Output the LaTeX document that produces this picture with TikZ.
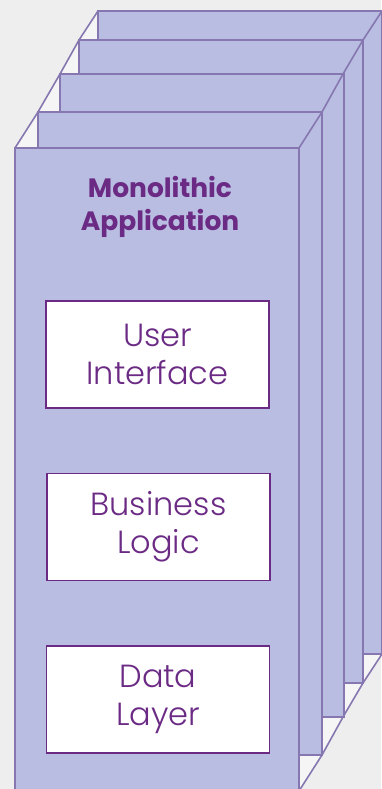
\documentclass[tikz,border=0pt]{standalone}
\usepackage{fontspec}
\setmainfont{Poppins}
\newfontfamily\lightfont{Poppins Light}
\definecolor{bg}{HTML}{EEEEEE}
\definecolor{gap}{HTML}{F5F5F5}
\definecolor{cardfill}{HTML}{B8BDE1}
\definecolor{cardline}{HTML}{8677B0}
\definecolor{plum}{HTML}{6B2A84}

\begin{document}
\begin{tikzpicture}[x=1pt, y=-1pt,
        layer/.style={fill=cardfill, draw=cardline, line width=1.6pt},
        edge/.style={draw=cardline, line width=1.6pt},
        part/.style={draw=plum, fill=white, line width=1.8pt, minimum width=223pt, minimum height=107pt,
            align=center, text=plum, font=\lightfont\fontsize{32}{38}\selectfont}]
        \fill[bg] (0,0) rectangle (381,789);
        \useasboundingbox (0,0) rectangle (381,789);

        \fill[gap] (15,148) -- (38,112) -- (60,74) -- (79,40) -- (98,11) -- (383,11) -- (383,654)
            -- (363,683) -- (343,717) -- (322,755) -- (299,791) -- (15,791) -- cycle;

        \foreach \x/\y in {98/11, 79/40, 60/74, 38/112, 15/148} {
            \draw[layer] (\x,\y) rectangle ++(284,643);
        }

        \draw[edge] (15,148) -- (38,112) -- (60,74) -- (79,40) -- (98,11);
        \draw[edge] (299,148) -- (322,112) -- (343,74) -- (363,40) -- (382,11);
        \draw[edge] (299,791) -- (322,755) -- (343,717) -- (363,683) -- (382,654);

        \node[text=plum, align=center, font=\bfseries\fontsize{26.5}{33}\selectfont] (title) at (160,207) {Monolithic\\Application};

        \node[part] (ui) at (157.5,354.5) {User\\Interface};
        \node[part] (logic) at (158.5,527) {Business\\Logic};
        \node[part] (data) at (158,699.5) {Data\\Layer};
    \end{tikzpicture}
\end{document}
